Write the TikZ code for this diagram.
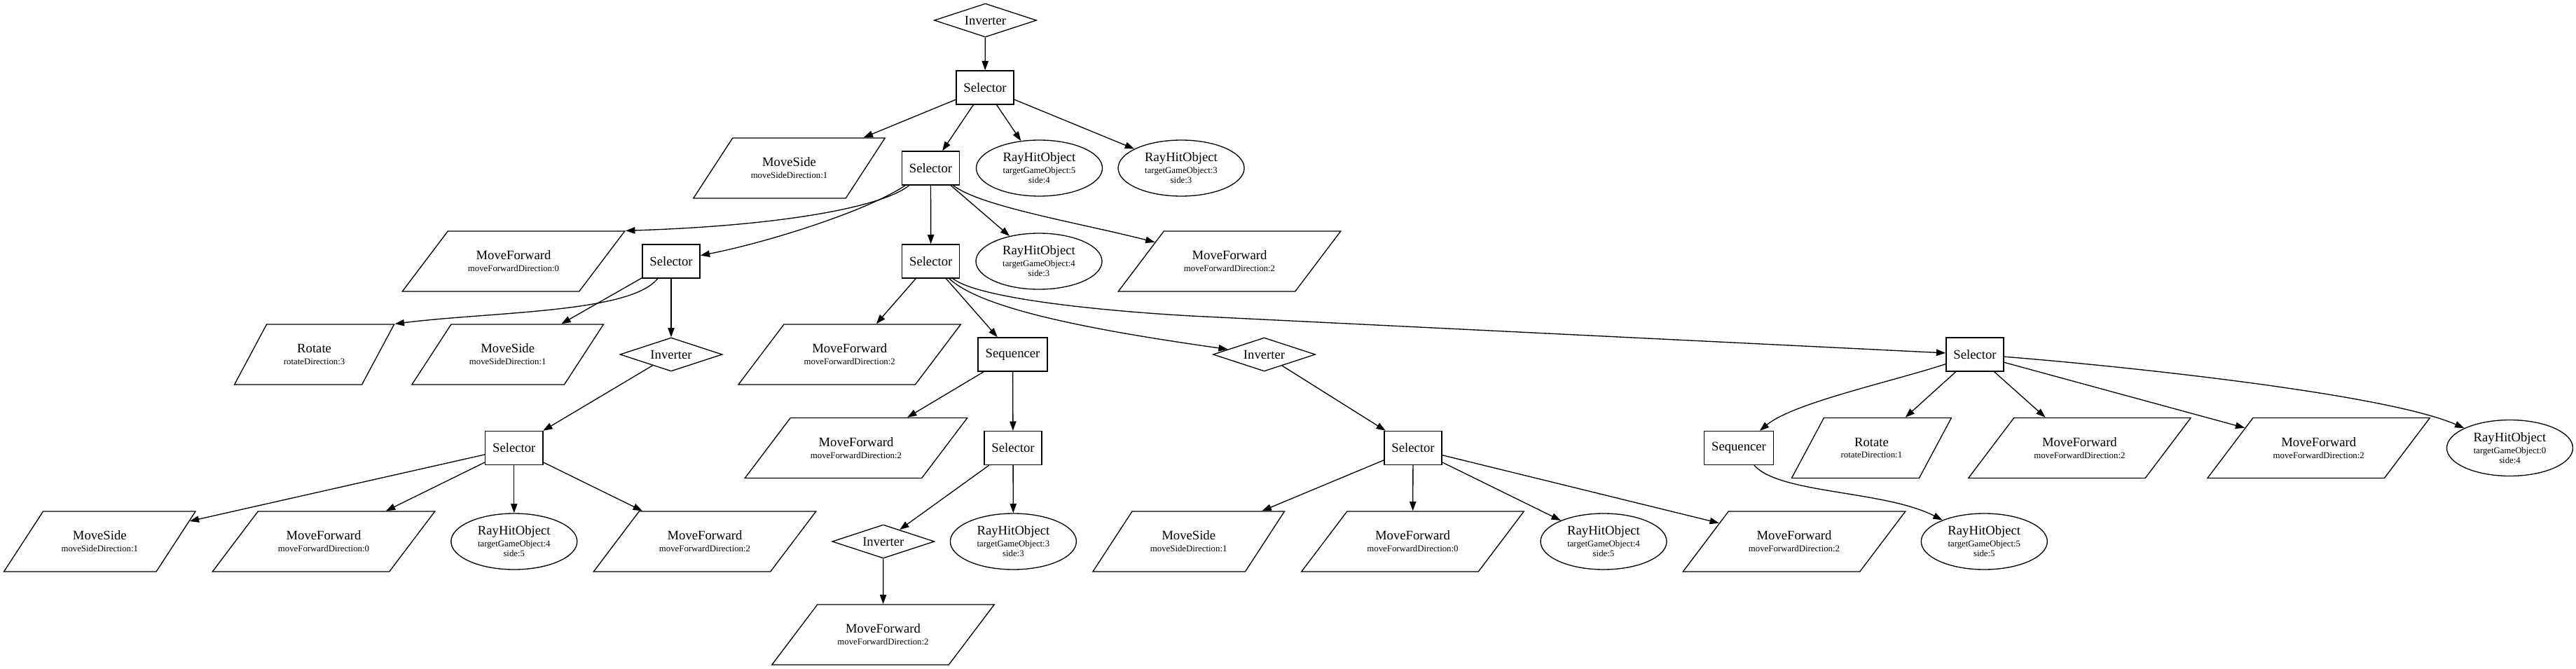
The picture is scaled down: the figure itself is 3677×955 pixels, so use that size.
\documentclass[tikz,border=0pt]{standalone}
\usepackage{fontspec}
\setmainfont{Liberation Serif}
\usetikzlibrary{shapes.geometric,arrows.meta}
\newcommand\subf{\fontsize{9.6}{10.7}\selectfont}
\begin{document}
\begin{tikzpicture}[x=0.75pt,y=-0.75pt,
  every node/.style={font=\fontsize{14}{10.7}\selectfont, line width=1pt},
  box/.style={draw, rectangle, minimum height=36pt, minimum width=54pt, inner xsep=7.9pt, inner ysep=0pt},
  inv/.style={draw, diamond, aspect=3, inner sep=0pt, minimum width=109.5pt, minimum height=36pt},
  ray/.style={draw, ellipse, inner sep=0pt, minimum width=135pt, minimum height=60pt, align=center},
  pbase/.style={draw, trapezium, inner sep=0pt, text height=32.25pt, text depth=32.25pt, minimum width=0pt, minimum height=0pt},
  mf/.style={pbase, trapezium left angle=52.92, trapezium right angle=127.08, text width=140.6pt},
  ms/.style={pbase, trapezium left angle=56.93, trapezium right angle=123.07, text width=121.1pt},
  rt/.style={pbase, trapezium left angle=61.86, trapezium right angle=118.14, text width=102pt},
  lbl/.style={align=center, draw=none, inner sep=0pt},
  edge/.style={-{Triangle[length=10pt,width=7pt]}, line width=1pt}
]
\fill[white] (0,0) rectangle (3677,955);
\useasboundingbox (0,0) rectangle (3677,955);

% row 0
\node[inv] (n0) at (1406.5,29) {Inverter};
% row 1
\node[box] (n1) at (1406,125) {Selector};
% row 2
\node[ms, label={[lbl]center:{MoveSide\\[2pt]{\subf moveSideDirection:1}}}] (ms2) at (1126.5,240) {};
\node[box] (s2) at (1328.5,240) {Selector};
\node[ray] (r54) at (1483.5,240) {RayHitObject\\[2pt]{\subf targetGameObject:5}\\{\subf side:4}};
\node[ray] (r33a) at (1686,240) {RayHitObject\\[2pt]{\subf targetGameObject:3}\\{\subf side:3}};
% row 3
\node[mf, label={[lbl]center:{MoveForward\\[2pt]{\subf moveForwardDirection:0}}}] (mf0a) at (733,373) {};
\node[box] (s3) at (958,373) {Selector};
\node[box] (s4) at (1328.7,373) {Selector};
\node[ray] (r43) at (1483,373) {RayHitObject\\[2pt]{\subf targetGameObject:4}\\{\subf side:3}};
\node[mf, label={[lbl]center:{MoveForward\\[2pt]{\subf moveForwardDirection:2}}}] (mf2a) at (1755,373) {};
% row 4
\node[rt, label={[lbl]center:{Rotate\\[2pt]{\subf rotateDirection:3}}}] (rot4) at (448.6,506) {};
\node[ms, label={[lbl]center:{MoveSide\\[2pt]{\subf moveSideDirection:1}}}] (ms4) at (724.7,506) {};
\node[inv] (inv4a) at (958,506) {Inverter};
\node[mf, label={[lbl]center:{MoveForward\\[2pt]{\subf moveForwardDirection:2}}}] (mf2b) at (1212.7,506) {};
\node[box] (seq4) at (1445.5,506) {Sequencer};
\node[inv] (inv4b) at (1804.5,506) {Inverter};
\node[box] (s4r) at (2819,506) {Selector};
% row 5
\node[box] (s5a) at (733.8,639.5) {Selector};
\node[mf, label={[lbl]center:{MoveForward\\[2pt]{\subf moveForwardDirection:2}}}] (mf2c) at (1222,639.5) {};
\node[box] (s5b) at (1446,639.5) {Selector};
\node[box] (s5c) at (2017,639.5) {Selector};
\node[box] (seq5) at (2482,639.5) {Sequencer};
\node[rt, label={[lbl]center:{Rotate\\[2pt]{\subf rotateDirection:1}}}] (rot5) at (2671.4,639.5) {};
\node[mf, label={[lbl]center:{MoveForward\\[2pt]{\subf moveForwardDirection:2}}}] (mf2d) at (2968.4,639.5) {};
\node[mf, label={[lbl]center:{MoveForward\\[2pt]{\subf moveForwardDirection:2}}}] (mf2e) at (3309.7,639.5) {};
\node[ray] (r04) at (3582.5,639.5) {RayHitObject\\[2pt]{\subf targetGameObject:0}\\{\subf side:4}};
% row 6
\node[ms, label={[lbl]center:{MoveSide\\[2pt]{\subf moveSideDirection:1}}}] (ms6) at (142.3,773) {};
\node[mf, label={[lbl]center:{MoveForward\\[2pt]{\subf moveForwardDirection:0}}}] (mf0b) at (462,773) {};
\node[ray] (r45a) at (733.8,773) {RayHitObject\\[2pt]{\subf targetGameObject:4}\\{\subf side:5}};
\node[mf, label={[lbl]center:{MoveForward\\[2pt]{\subf moveForwardDirection:2}}}] (mf2f) at (1006,773) {};
\node[inv] (inv6) at (1260.8,773) {Inverter};
\node[ray] (r33b) at (1446.4,773) {RayHitObject\\[2pt]{\subf targetGameObject:3}\\{\subf side:3}};
\node[ms, label={[lbl]center:{MoveSide\\[2pt]{\subf moveSideDirection:1}}}] (ms6b) at (1696.7,773) {};
\node[mf, label={[lbl]center:{MoveForward\\[2pt]{\subf moveForwardDirection:0}}}] (mf0c) at (2016.5,773) {};
\node[ray] (r45b) at (2289,773) {RayHitObject\\[2pt]{\subf targetGameObject:4}\\{\subf side:5}};
\node[mf, label={[lbl]center:{MoveForward\\[2pt]{\subf moveForwardDirection:2}}}] (mf2g) at (2561,773) {};
\node[ray] (r55) at (2832.3,773) {RayHitObject\\[2pt]{\subf targetGameObject:5}\\{\subf side:5}};
% row 7
\node[mf, label={[lbl]center:{MoveForward\\[2pt]{\subf moveForwardDirection:2}}}] (mf2h) at (1260.5,906) {};

\coordinate (w1) at (1700,451);

% edges
\draw[edge] (n0) -- (n1);
\draw[edge] (n1) -- (ms2);
\draw[edge] (n1) -- (s2);
\draw[edge] (n1) -- (r54);
\draw[edge] (n1) -- (r33a);
\draw[edge] (s2) .. controls (1260,295) and (1120,322) .. (mf0a.top right corner);
\draw[edge] (s2) .. controls (1240,300) and (1100,345) .. (s3);
\draw[edge] (s2) -- (s4);
\draw[edge] (s2) -- (r43);
\draw[edge] (s2) .. controls (1400,295) and (1540,318) .. (mf2a);
\draw[edge] (s3) .. controls (900,447) and (700,445) .. (rot4.top right corner);
\draw[edge] (s3) -- (ms4);
\draw[edge] (s3) -- (inv4a);
\draw[edge] (inv4a) -- (s5a);
\draw[edge] (s5a) -- (ms6);
\draw[edge] (s5a) -- (mf0b);
\draw[edge] (s5a) -- (r45a);
\draw[edge] (s5a) -- (mf2f);
\draw[edge] (s4) -- (mf2b);
\draw[edge] (s4) -- (seq4);
\draw[edge] (s4) .. controls (1400,440) and (1550,470) .. (inv4b);
\draw[edge] (s4) .. controls (1395,425) and (1560,443) .. (w1) -- (s4r);
\draw[edge] (seq4) -- (mf2c);
\draw[edge] (seq4) -- (s5b);
\draw[edge] (s5b) -- (inv6);
\draw[edge] (s5b) -- (r33b);
\draw[edge] (inv6) -- (mf2h);
\draw[edge] (inv4b) -- (s5c);
\draw[edge] (s5c) -- (ms6b);
\draw[edge] (s5c) -- (mf0c);
\draw[edge] (s5c) -- (r45b);
\draw[edge] (s5c) -- (mf2g);
\draw[edge] (s4r) .. controls (2700,545) and (2560,575) .. (seq5);
\draw[edge] (s4r) -- (rot5);
\draw[edge] (s4r) -- (mf2d);
\draw[edge] (s4r) -- (mf2e);
\draw[edge] (s4r) .. controls (3000,520) and (3400,560) .. (r04);
\draw[edge] (seq5) .. controls (2540,705) and (2690,700) .. (r55);
\end{tikzpicture}
\end{document}
